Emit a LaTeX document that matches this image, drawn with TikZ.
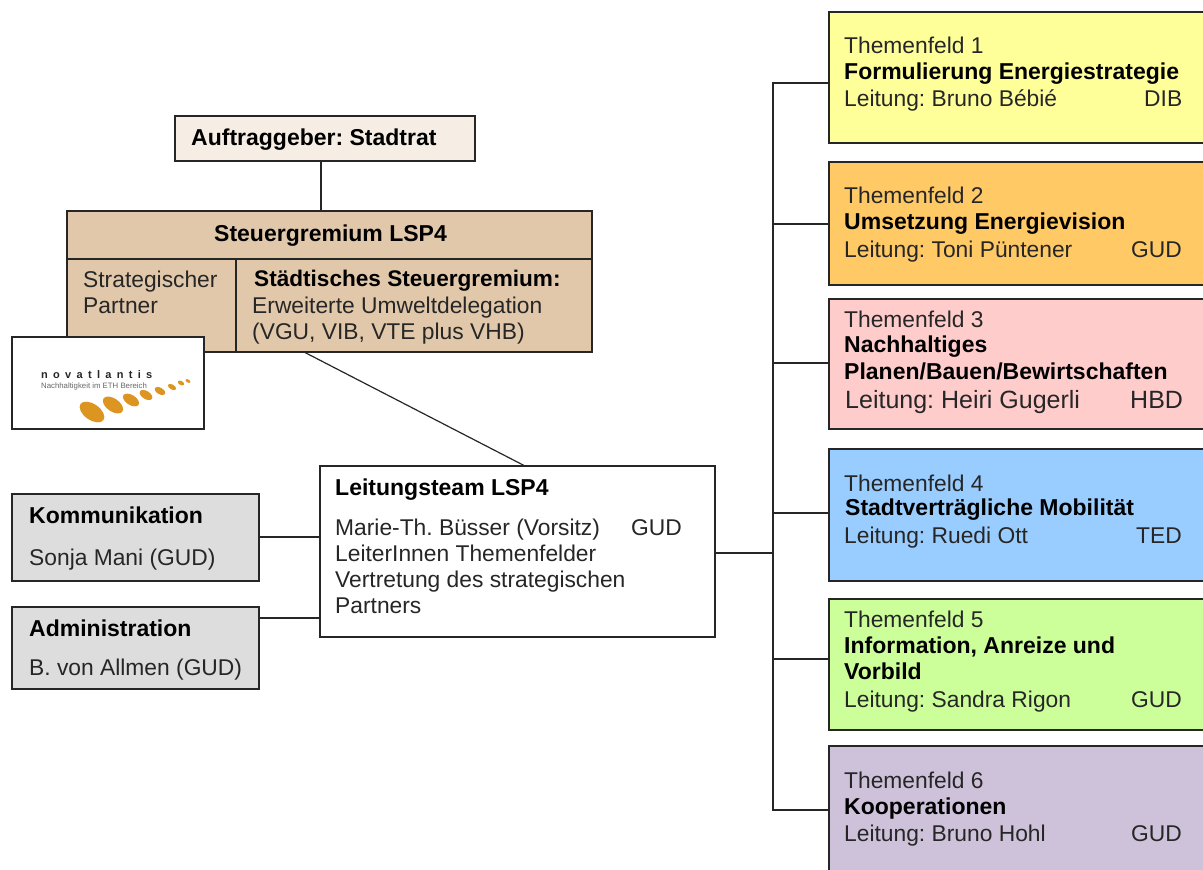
\documentclass[tikz,border=0pt]{standalone}
\usepackage{fontspec}
\setmainfont{Liberation Sans}
\frenchspacing
\definecolor{cauf}{HTML}{F6EEE5}
\definecolor{cst}{HTML}{E2C8AA}
\definecolor{cgr}{HTML}{DDDDDD}
\definecolor{cy}{HTML}{FFFF99}
\definecolor{co}{HTML}{FFC966}
\definecolor{cp}{HTML}{FFCCCC}
\definecolor{cb}{HTML}{99CCFF}
\definecolor{cg}{HTML}{CCFF99}
\definecolor{cv}{HTML}{CEC2DA}
\definecolor{corange}{HTML}{DD9522}
\definecolor{ink}{HTML}{262626}
\tikzset{
 bx/.style={draw=ink,line width=1.4pt,inner sep=0pt},
 conn/.style={draw=ink,line width=1.2pt},
 tx/.style={anchor=base west,inner sep=0pt,text=ink,font=\fontsize{22.8}{24}\selectfont},
 bt/.style={tx,text=black,font=\fontsize{23}{24}\selectfont\bfseries},
 btn/.style={tx,text=black,font=\fontsize{22.6}{24}\selectfont\bfseries},
 big/.style={tx,font=\fontsize{25}{26}\selectfont},
}
\newcommand{\boxat}[6]{\node[bx,fill=#6,minimum width=#4pt-#2pt,minimum height=#5pt-#3pt] (#1) at ({(#2+#4)/2},{(#3+#5)/2}) {};}
\begin{document}
\begin{tikzpicture}[x=1pt,y=-1pt]
\useasboundingbox (0,0) rectangle (1203,870);
\clip (0,0) rectangle (1203,870);
% boxes
\boxat{auf}{175}{116}{475}{161}{cauf}
\boxat{st}{67}{211}{592}{352}{cst}
\coordinate (stl) at (67,259); \coordinate (str) at (592,259);
\coordinate (stt) at (236,259); \coordinate (stb) at (236,352);
\draw[draw=ink,line width=1.2pt] (stl) -- (str);
\draw[draw=ink,line width=1.2pt] (stt) -- (stb);
\boxat{logo}{12}{337}{204}{429}{white}
\boxat{lei}{320}{466}{715}{637}{white}
\boxat{kom}{12}{494}{259}{581}{cgr}
\boxat{adm}{12}{607}{259}{689}{cgr}
\boxat{t1}{829}{12}{1210}{143}{cy}
\boxat{t2}{829}{162}{1210}{285}{co}
\boxat{t3}{829}{299}{1210}{429}{cp}
\boxat{t4}{829}{449}{1210}{581}{cb}
\boxat{t5}{829}{599}{1210}{730}{cg}
\boxat{t6}{829}{746}{1210}{885}{cv}
% connectors
\draw[conn] (auf.south -| 321,0) -- (st.north -| 321,0);
\coordinate (s1) at (304,352);
\coordinate (l1) at (525,466);
\draw[conn] (s1) -- (l1);
\draw[conn] (kom.east |- 0,537) -- (lei.west |- 0,537);
\draw[conn] (adm.east |- 0,618) -- (lei.west |- 0,618);
\coordinate (bus) at (773,553);
\draw[conn] (lei.east |- bus) -- (bus);
\coordinate (bt) at (773,83); \coordinate (bb) at (773,810);
\draw[conn,line cap=rect] (bt) -- (bb);
\draw[conn] (bt) -- (t1.west |- bt);
\draw[conn] (773,224) -- (t2.west |- 0,224);
\draw[conn] (773,363) -- (t3.west |- 0,363);
\draw[conn] (773,513) -- (t4.west |- 0,513);
\draw[conn] (773,659) -- (t5.west |- 0,659);
\draw[conn] (bb) -- (t6.west |- bb);
% texts left
\node[bt] (a1) at (191,145) {Auftraggeber: Stadtrat};
\node[bt] (a2) at (214,241) {Steuergremium LSP4};
\node[tx] (a3) at (83,287) {Strategischer};
\node[tx] (a4) at (83,313) {Partner};
\node[btn] (a5) at (254,286) {Städtisches Steuergremium:};
\node[tx] (a6) at (252,313) {Erweiterte Umweltdelegation};
\node[tx] (a7) at (252,339) {(VGU, VIB, VTE plus VHB)};
\node[bt] (b1) at (335,495) {Leitungsteam LSP4};
\node[tx] (b2) at (335,535) {Marie-Th. Büsser (Vorsitz)};
\node[tx] (b3) at (631,535) {GUD};
\node[tx] (b4) at (335,561) {LeiterInnen Themenfelder};
\node[tx] (b5) at (335,587) {Vertretung des strategischen};
\node[tx] (b6) at (335,613) {Partners};
\node[bt] (c1) at (29,523) {Kommunikation};
\node[tx] (c2) at (29,565) {Sonja Mani (GUD)};
\node[bt] (c3) at (29,636) {Administration};
\node[tx] (c4) at (29,675) {B. von Allmen (GUD)};
% texts right
\node[tx] (d1) at (844,53) {Themenfeld 1};
\node[bt] (d2) at (844,79) {Formulierung Energiestrategie};
\node[tx] (d3) at (844,106) {Leitung: Bruno Bébié};
\node[tx] (d4) at (1144,106) {DIB};
\node[tx] (e1) at (844,203) {Themenfeld 2};
\node[bt] (e2) at (844,229) {Umsetzung Energievision};
\node[tx] (e3) at (844,257) {Leitung: Toni Püntener};
\node[tx] (e4) at (1131,257) {GUD};
\node[tx] (f1) at (844,327) {Themenfeld 3};
\node[bt] (f2) at (844,352) {Nachhaltiges};
\node[bt] (f3) at (844,379) {Planen/Bauen/Bewirtschaften};
\node[big] (f4) at (845,408) {Leitung: Heiri Gugerli};
\node[big] (f5) at (1130,408) {HBD};
\node[tx] (g1) at (844,491) {Themenfeld 4};
\node[bt] (g2) at (845,515) {Stadtverträgliche Mobilität};
\node[tx] (g3) at (844,543) {Leitung: Ruedi Ott};
\node[tx] (g4) at (1136,543) {TED};
\node[tx] (h1) at (844,627) {Themenfeld 5};
\node[bt] (h2) at (844,653) {Information, Anreize und};
\node[bt] (h3) at (844,679) {Vorbild};
\node[tx] (h4) at (844,707) {Leitung: Sandra Rigon};
\node[tx] (h5) at (1131,707) {GUD};
\node[tx] (i1) at (844,788) {Themenfeld 6};
\node[bt] (i2) at (844,814) {Kooperationen};
\node[tx] (i3) at (844,841) {Leitung: Bruno Hohl};
\node[tx] (i4) at (1131,841) {GUD};
% logo
\node[anchor=base west,inner sep=0pt,text=ink,font=\fontsize{11}{12}\selectfont\bfseries] (n1) at (41,378) {n\hspace{5.3pt}o\hspace{5.3pt}v\hspace{5.3pt}a\hspace{5.3pt}t\hspace{5.3pt}l\hspace{5.3pt}a\hspace{5.3pt}n\hspace{5.3pt}t\hspace{5.3pt}i\hspace{5.3pt}s};
\node[anchor=base west,inner sep=0pt,text=ink!70,font=\fontsize{7.8}{9}\selectfont] (n2) at (41,388) {Nachhaltigkeit im ETH Bereich};
\foreach \x/\y/\a/\b/\r in {92/412/14/8/35,113/405/11.5/6.5/35,131/400/9/5/32,146/395/7/4/32,160/391/6/3.2/30,172/387/4.5/2.5/30,181/383/3.5/2/30,188/381/2.7/1.5/30}
  \fill[corange,rotate around={-\r:(\x,\y)}] (\x,\y) ellipse ({\a} and {\b});
\end{tikzpicture}
\end{document}
